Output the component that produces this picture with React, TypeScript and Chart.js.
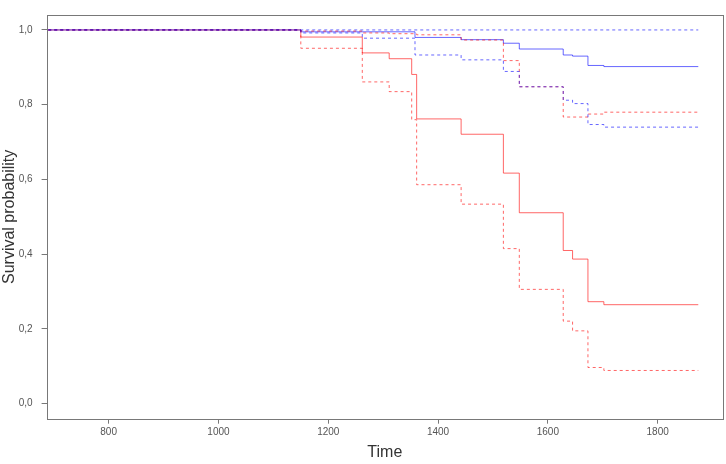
import React, { useEffect, useRef } from "react";
import { Chart, registerables } from "chart.js";

Chart.register(...registerables);

// Kaplan-Meier step data: [time, survival]
const blueTimes = [690, 1150, 1358, 1442, 1519, 1548, 1628, 1645, 1673, 1702, 1874];
const blueSurv = [1.0, 0.995, 0.98, 0.974, 0.9645, 0.949, 0.933, 0.93, 0.905, 0.902, 0.902];

const blueLowTimes = [690, 1150, 1262, 1358, 1442, 1519, 1548, 1628, 1645, 1673, 1702, 1874];
const blueLow = [1.0, 0.992, 0.978, 0.933, 0.92, 0.889, 0.848, 0.812, 0.803, 0.747, 0.74, 0.74];

const blueUpTimes = [690, 1874];
const blueUp = [1.0, 1.0];

const redTimes = [690, 1150, 1262, 1311, 1352, 1361, 1442, 1519, 1548, 1628, 1645, 1673, 1702, 1874];
const redSurv = [1.0, 0.981, 0.9386, 0.923, 0.881, 0.762, 0.721, 0.617, 0.511, 0.41, 0.387, 0.273, 0.265, 0.265];

const redLowTimes = [690, 1150, 1262, 1311, 1352, 1361, 1442, 1519, 1548, 1628, 1645, 1673, 1702, 1874];
const redLow = [1.0, 0.951, 0.861, 0.835, 0.76, 0.586, 0.534, 0.415, 0.306, 0.221, 0.195, 0.097, 0.089, 0.089];

const redUpTimes = [690, 1150, 1262, 1311, 1361, 1442, 1519, 1548, 1628, 1673, 1702, 1874];
const redUp = [1.0, 0.997, 0.992, 0.99, 0.987, 0.973, 0.918, 0.848, 0.767, 0.775, 0.78, 0.78];

const xTicks = [800, 1000, 1200, 1400, 1600, 1800];
const yTicks = [0, 0.2, 0.4, 0.6, 0.8, 1.0];

const toPts = (xs: number[], ys: number[]) => xs.map((x, i) => ({ x, y: ys[i] }));

const BLUE = "rgba(0,0,255,0.6)";
const RED = "rgba(255,0,0,0.6)";
const AXIS = "rgb(120,120,120)";

const boxPlugin = {
  id: "boxPlugin",
  afterDraw(chart: any) {
    const { ctx, chartArea } = chart;
    ctx.save();
    ctx.strokeStyle = AXIS;
    ctx.lineWidth = 1;
    ctx.strokeRect(
      Math.round(chartArea.left) + 0.5,
      Math.round(chartArea.top) + 0.5,
      Math.round(chartArea.right - chartArea.left),
      Math.round(chartArea.bottom - chartArea.top)
    );
    ctx.restore();
  },
};

export default function App() {
  const ref = useRef<HTMLCanvasElement | null>(null);

  useEffect(() => {
    document.body.style.margin = "0";
    if (!ref.current) return;
    const mk = (label: string, xs: number[], ys: number[], color: string, dashed: boolean) => ({
      label,
      data: toPts(xs, ys),
      borderColor: color,
      backgroundColor: color,
      borderWidth: 1,
      borderDash: dashed ? [3, 3] : [],
      pointRadius: 0,
      stepped: "before" as const,
      fill: false,
    });
    const chart = new Chart(ref.current, {
      type: "line",
      data: {
        datasets: [
          mk("blue upper", blueUpTimes, blueUp, BLUE, true),
          mk("blue lower", blueLowTimes, blueLow, BLUE, true),
          mk("red upper", redUpTimes, redUp, RED, true),
          mk("red lower", redLowTimes, redLow, RED, true),
          mk("blue", blueTimes, blueSurv, BLUE, false),
          mk("red", redTimes, redSurv, RED, false),
        ],
      },
      options: {
        animation: false,
        responsive: false,
        maintainAspectRatio: false,
        layout: { padding: { top: 2, right: 3, bottom: 0, left: 0 } },
        plugins: {
          legend: { display: false },
          tooltip: { enabled: false },
        },
        scales: {
          x: {
            type: "linear",
            min: 687,
            max: 1919,
            afterBuildTicks: (s: any) => {
              s.ticks = xTicks.map((v) => ({ value: v }));
            },
            afterFit: (s: any) => {
              s.height = 45.3;
            },
            grid: { drawOnChartArea: false, drawTicks: true, tickLength: 5, color: AXIS },
            border: { display: false },
            ticks: {
              color: "#555",
              font: { family: "Liberation Sans, Arial, sans-serif", size: 10 },
              padding: 3,
              maxRotation: 0,
              callback: (v: any) => String(v),
            },
            title: {
              display: true,
              text: "Time",
              color: "#333",
              font: { family: "Liberation Sans, Arial, sans-serif", size: 16 },
              padding: { top: 0, bottom: 2 },
            },
          },
          y: {
            type: "linear",
            min: -0.04,
            max: 1.04,
            afterBuildTicks: (s: any) => {
              s.ticks = yTicks.map((v) => ({ value: v }));
            },
            afterFit: (s: any) => {
              s.width = 46.6;
            },
            grid: { drawOnChartArea: false, drawTicks: true, tickLength: 5, color: AXIS },
            border: { display: false },
            ticks: {
              color: "#555",
              font: { family: "Liberation Sans, Arial, sans-serif", size: 10 },
              padding: 9,
              callback: (v: any) => Number(v).toFixed(1).replace(".", ","),
            },
            title: {
              display: true,
              text: "Survival probability",
              color: "#333",
              font: { family: "Liberation Sans, Arial, sans-serif", size: 16 },
              padding: { top: 0, bottom: 0 },
            },
          },
        },
      },
      plugins: [boxPlugin],
    });
    return () => chart.destroy();
  }, []);

  return (
    <div style={{ width: 726, height: 464 }}>
      <canvas ref={ref} width={726} height={464} style={{ display: "block" }} />
    </div>
  );
}
